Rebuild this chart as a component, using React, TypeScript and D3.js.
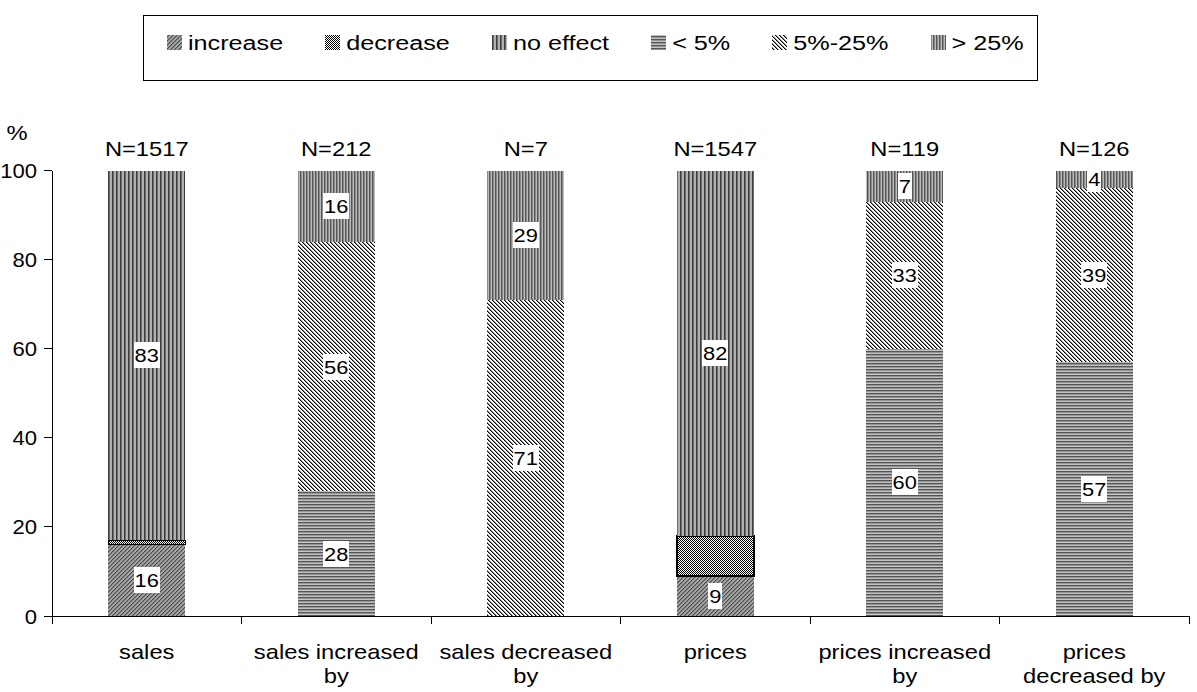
import React from "react";
import * as d3 from "d3";

const categories = [
  "sales",
  "sales increased by",
  "sales decreased by",
  "prices",
  "prices increased by",
  "prices decreased by",
];
const categoryLines = [
  ["sales"],
  ["sales increased", "by"],
  ["sales decreased", "by"],
  ["prices"],
  ["prices increased", "by"],
  ["prices", "decreased by"],
];
const nLabels = ["N=1517", "N=212", "N=7", "N=1547", "N=119", "N=126"];

const seriesKeys = ["increase", "decrease", "noEffect", "lt5", "mid", "gt25"];
const seriesNames = ["increase", "decrease", "no effect", "< 5%", "5%-25%", "> 25%"];
const increase = [16, 0, 0, 9, 0, 0];
const decrease = [1, 0, 0, 9, 0, 0];
const noEffect = [83, 0, 0, 82, 0, 0];
const lt5 = [0, 28, 0, 0, 60, 57];
const mid = [0, 56, 71, 0, 33, 39];
const gt25 = [0, 16, 29, 0, 7, 4];
const showLabel = [true, false, true, true, true, true];

const yTicks = [0, 20, 40, 60, 80, 100];

const W = 1197;
const H = 692;
const FONT = "'Liberation Sans', Arial, sans-serif";
const SX = 1.13;

function measure(text: string, size: number): number {
  try {
    const c = document.createElement("canvas");
    const ctx = c.getContext("2d");
    if (ctx) {
      ctx.font = `${size}px 'Liberation Sans', Arial, sans-serif`;
      return ctx.measureText(text).width;
    }
  } catch (e) {}
  return text.length * size * 0.55;
}

function T(props: {
  x: number;
  y: number;
  size: number;
  anchor?: string;
  sx?: number;
  children: React.ReactNode;
}) {
  const { x, y, size, anchor = "start", sx = SX, children } = props;
  return (
    <text
      transform={`translate(${x},${y}) scale(${sx},1)`}
      fontFamily={FONT}
      fontSize={size}
      textAnchor={anchor}
      fill="#000"
    >
      {children}
    </text>
  );
}

export default function App() {
  const rows = categories.map((c, i) => ({
    cat: c,
    increase: increase[i],
    decrease: decrease[i],
    noEffect: noEffect[i],
    lt5: lt5[i],
    mid: mid[i],
    gt25: gt25[i],
  }));
  const stacked = d3.stack<any>().keys(seriesKeys)(rows);

  const x0 = 52;
  const x1 = 1189;
  const x = d3.scaleBand<string>().domain(categories).range([x0, x1]).padding(0);
  const barW = 77;
  const y = d3.scaleLinear().domain([0, 100]).range([616, 170.5]);

  const fills = [
    "url(#pInc)",
    "url(#pDec)",
    "url(#pNoEff)",
    "url(#pLt5)",
    "url(#pMid)",
    "url(#pGt25)",
  ];

  const legendFont = 21;
  const legendSX = 1.2;
  let cursor = 167;
  const legendItems = seriesNames.map((name, i) => {
    const w = measure(name, legendFont) * legendSX;
    const item = { name, i, x: cursor };
    cursor += 15 + 6 + w + 42;
    return item;
  });

  const labelFont = 19;
  const labelSX = 1.15;

  const px = (pts: number[][], fill: string) =>
    pts.map((p, k) => <rect key={k} x={p[0]} y={p[1]} width={1} height={1} fill={fill} />);

  return (
    <svg
      width={W}
      height={H}
      style={{ position: "absolute", left: 0, top: 0, background: "#fff" }}
      shapeRendering="crispEdges"
    >
      <defs>
        <pattern id="pInc" patternUnits="userSpaceOnUse" width="4" height="4">
          <rect width="4" height="4" fill="#a6a6a6" />
          {px([[3, 0], [2, 1], [1, 2], [0, 3]], "#4e4e4e")}
          {px([[0, 0], [3, 1], [2, 2], [1, 3]], "#7a7a7a")}
        </pattern>
        <pattern id="pDec" patternUnits="userSpaceOnUse" width="2" height="2">
          <rect width="2" height="2" fill="#fff" />
          <rect x="0" y="0" width="1" height="1" fill="#000" />
          <rect x="1" y="1" width="1" height="1" fill="#000" />
        </pattern>
        <pattern id="pNoEff" patternUnits="userSpaceOnUse" width="4" height="4">
          <rect width="4" height="4" fill="#b0b0b0" />
          <rect x="0" width="1" height="4" fill="#3c3c3c" />
          <rect x="1" width="1" height="4" fill="#6c6c6c" />
        </pattern>
        <pattern id="pGt25" patternUnits="userSpaceOnUse" width="3" height="3">
          <rect width="3" height="3" fill="#bcbcbc" />
          <rect x="0" width="1" height="3" fill="#555" />
          <rect x="1" width="1" height="3" fill="#8a8a8a" />
        </pattern>
        <pattern id="pLt5" patternUnits="userSpaceOnUse" width="3" height="3">
          <rect width="3" height="3" fill="#c2c2c2" />
          <rect y="0" width="3" height="1" fill="#555" />
          <rect y="1" width="3" height="1" fill="#959595" />
        </pattern>
        <pattern id="pMid" patternUnits="userSpaceOnUse" width="4" height="4">
          <rect width="4" height="4" fill="#fff" />
          {px([[0, 0], [1, 1], [2, 2], [3, 3]], "#000")}
          {px([[1, 0], [2, 1], [3, 2], [0, 3]], "#8c8c8c")}
        </pattern>
      </defs>

      {/* legend */}
      <rect x={143.5} y={15.5} width={894} height={65} fill="#fff" stroke="#000" strokeWidth={1} />
      {legendItems.map((it) => (
        <g key={it.name}>
          <rect x={it.x} y={35} width={15} height={15} fill={fills[it.i]} />
          <T x={it.x + 21} y={50} size={legendFont} sx={legendSX}>
            {it.name}
          </T>
        </g>
      ))}

      {/* bars */}
      {stacked.map((s, si) => (
        <g key={seriesKeys[si]}>
          {s.map((d, ci) => {
            const v = d[1] - d[0];
            if (v <= 0) return null;
            const cx = (x(categories[ci]) as number) + x.bandwidth() / 2;
            const isDec = seriesKeys[si] === "decrease";
            return (
              <rect
                key={ci}
                x={cx - barW / 2}
                y={y(d[1])}
                width={barW}
                height={y(d[0]) - y(d[1])}
                fill={fills[si]}
                stroke={isDec ? "#000" : "none"}
                strokeWidth={isDec ? 1.5 : 0}
              />
            );
          })}
        </g>
      ))}

      {/* value labels */}
      {stacked.map((s, si) =>
        s.map((d, ci) => {
          const v = d[1] - d[0];
          if (v <= 0 || !showLabel[si]) return null;
          const cx = (x(categories[ci]) as number) + x.bandwidth() / 2;
          const cy = y((d[0] + d[1]) / 2);
          const txt = String(v);
          const tw = measure(txt, labelFont) * labelSX;
          return (
            <g key={`l${si}-${ci}`}>
              <rect x={cx - tw / 2 - 1} y={cy - 13} width={tw + 2} height={26} fill="#fff" />
              <T x={cx} y={cy + 7} size={labelFont} anchor="middle" sx={labelSX}>
                {txt}
              </T>
            </g>
          );
        })
      )}

      {/* y axis */}
      <line x1={x0} x2={x0} y1={y(100)} y2={624} stroke="#000" strokeWidth={1} />
      {yTicks.map((t) => (
        <g key={t}>
          <line x1={44} x2={x0} y1={y(t)} y2={y(t)} stroke="#000" strokeWidth={1} />
          <T x={37} y={y(t) + 7.5} size={21} anchor="end" sx={1.05}>
            {t}
          </T>
        </g>
      ))}
      <T x={17} y={140} size={21} anchor="middle">
        %
      </T>

      {/* x axis */}
      <line x1={x0} x2={x1} y1={616} y2={616} stroke="#000" strokeWidth={1} />
      {d3.range(categories.length + 1).map((k) => {
        const xx = x0 + k * x.step();
        return <line key={k} x1={xx} x2={xx} y1={616} y2={624} stroke="#000" strokeWidth={1} />;
      })}
      {categories.map((c, i) => {
        const cx = (x(c) as number) + x.bandwidth() / 2;
        return (
          <g key={c}>
            {categoryLines[i].map((ln, li) => (
              <T key={li} x={cx} y={659 + li * 24} size={21} anchor="middle">
                {ln}
              </T>
            ))}
            <T x={cx} y={156} size={21} anchor="middle">
              {nLabels[i]}
            </T>
          </g>
        );
      })}
    </svg>
  );
}
